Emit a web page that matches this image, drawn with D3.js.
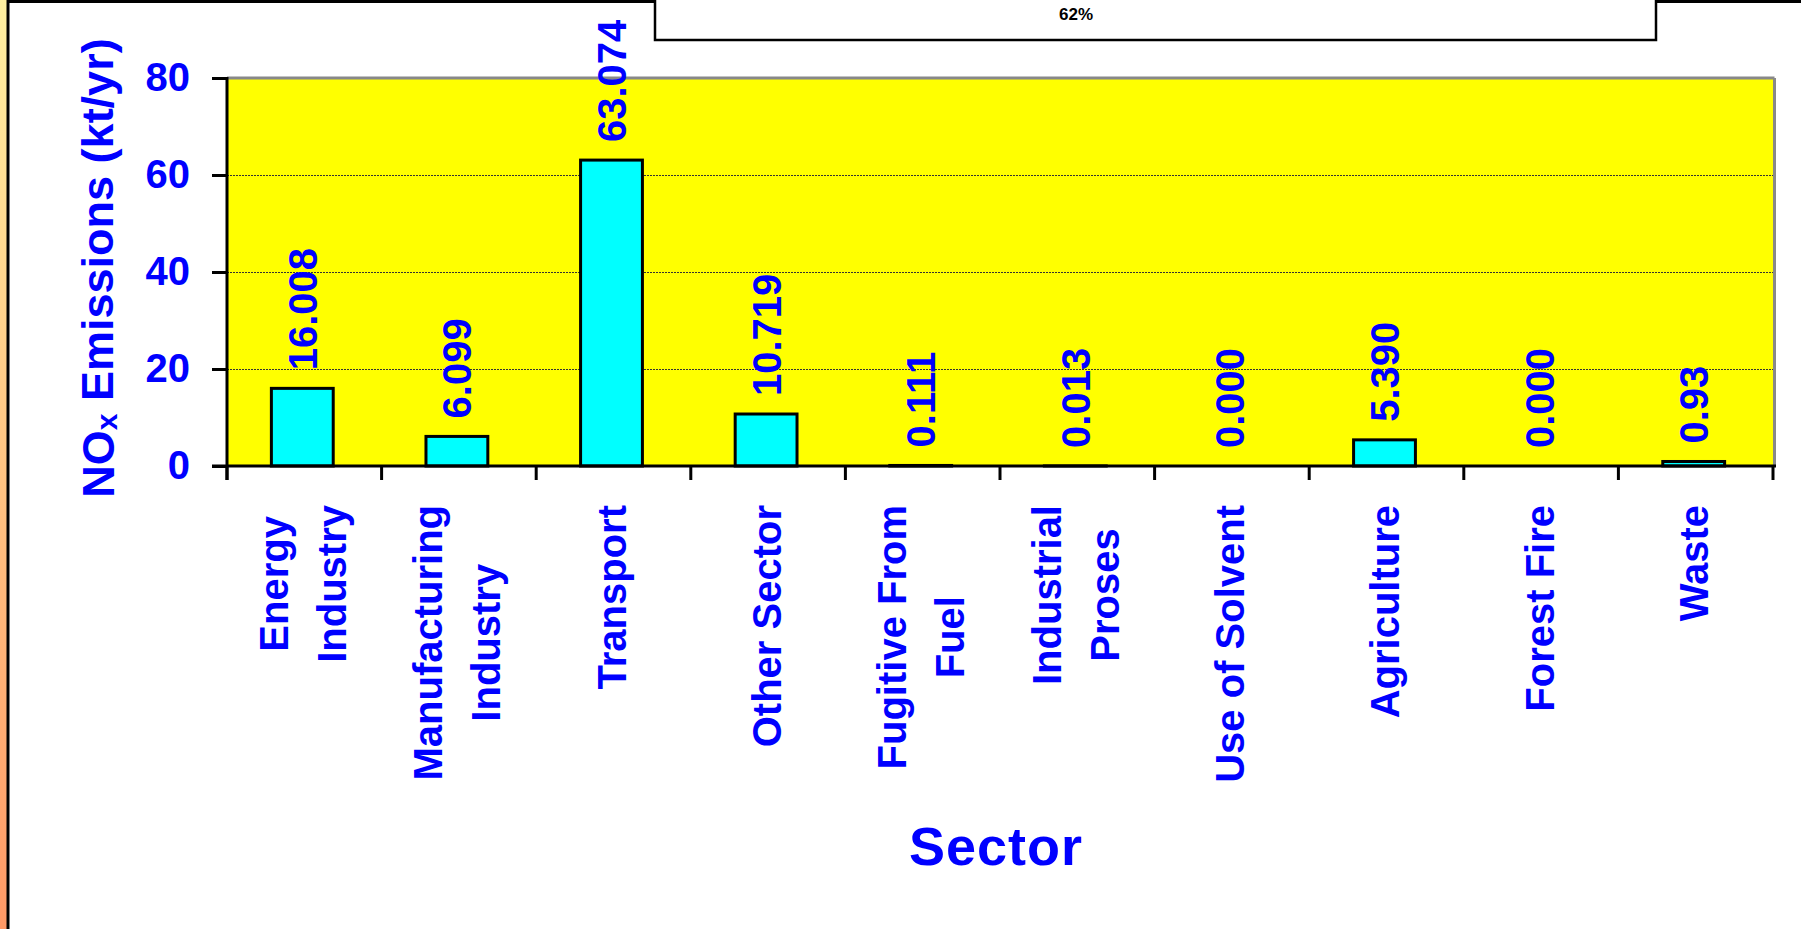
<!DOCTYPE html>
<html>
<head>
<meta charset="utf-8">
<script src="https://cdn.jsdelivr.net/npm/d3@7"></script>
<style>
  html, body { margin: 0; padding: 0; background: #fff; overflow: hidden; }
  svg { display: block; }
  text { font-family: "Liberation Sans", Arial, sans-serif; font-weight: bold; }
</style>
</head>
<body>
<svg id="chart" width="1801" height="929"></svg>
<script>
// ---- Data ----
const categories = [
  "Energy\nIndustry", "Manufacturing\nIndustry", "Transport", "Other Sector",
  "Fugitive From\nFuel", "Industrial\nProses", "Use of Solvent", "Agriculture",
  "Forest Fire", "Waste"
];
const values = [16.008, 6.099, 63.074, 10.719, 0.111, 0.013, 0.000, 5.390, 0.000, 0.93];
const valueLabels = ["16.008", "6.099", "63.074", "10.719", "0.111", "0.013", "0.000", "5.390", "0.000", "0.93"];
const yTicks = [0, 20, 40, 60, 80];
const yGridTicks = [20, 40, 60];
const topBoxText = "62%";

// ---- Layout ----
const W = 1801, H = 929;
const plot = { left: 227, right: 1773, top: 78, bottom: 466 };
const blue = "#0000FF";

const svg = d3.select("#chart");

// left gradient strip + frame
const defs = svg.append("defs");
const grad = defs.append("linearGradient").attr("id", "strip").attr("x1", 0).attr("y1", 0).attr("x2", 0).attr("y2", 1);
grad.append("stop").attr("offset", "0%").attr("stop-color", "#FFF0A0");
grad.append("stop").attr("offset", "100%").attr("stop-color", "#FF9966");
svg.append("rect").attr("x", 0).attr("y", 0).attr("width", 7).attr("height", H).attr("fill", "url(#strip)");
svg.append("line").attr("x1", 8).attr("x2", 8).attr("y1", 0).attr("y2", H).attr("stroke", "#000").attr("stroke-width", 3);
svg.append("line").attr("x1", 7).attr("x2", W).attr("y1", 1.5).attr("y2", 1.5).attr("stroke", "#000").attr("stroke-width", 3);

// top box with percentage
svg.append("rect").attr("x", 655).attr("y", -10).attr("width", 1001).attr("height", 50)
  .attr("fill", "#fff").attr("stroke", "#000").attr("stroke-width", 2.5);
svg.append("text").attr("x", 1076).attr("y", 20).attr("text-anchor", "middle")
  .attr("font-size", 17).attr("fill", "#000").text(topBoxText);

// scales
const x = d3.scaleBand().domain(d3.range(categories.length)).range([plot.left, plot.right]).padding(0);
const y = d3.scaleLinear().domain([0, 80]).range([plot.bottom, plot.top]);

// plot background
svg.append("rect").attr("x", plot.left).attr("y", plot.top)
  .attr("width", plot.right - plot.left).attr("height", plot.bottom - plot.top)
  .attr("fill", "#FFFF00");

// gridlines
svg.append("g").selectAll("line").data(yGridTicks).join("line")
  .attr("x1", plot.left).attr("x2", plot.right)
  .attr("y1", d => Math.round(y(d)) + 0.5).attr("y2", d => Math.round(y(d)) + 0.5)
  .attr("stroke", "#333").attr("stroke-width", 1).attr("stroke-dasharray", "2,1");

// plot border (top/right gray)
svg.append("line").attr("x1", plot.left).attr("x2", plot.right + 1.5).attr("y1", plot.top).attr("y2", plot.top)
  .attr("stroke", "#888").attr("stroke-width", 3);
svg.append("line").attr("x1", plot.right + 1.5).attr("x2", plot.right + 1.5).attr("y1", plot.top).attr("y2", plot.bottom)
  .attr("stroke", "#888").attr("stroke-width", 3);

// bars
const barW = x.bandwidth() * 0.4;
svg.append("g").selectAll("rect").data(values).join("rect")
  .attr("x", (d, i) => x(i) + x.bandwidth() / 2 - barW / 2 - 2)
  .attr("y", d => y(d))
  .attr("width", barW)
  .attr("height", d => y(0) - y(d))
  .attr("fill", "#00FFFF")
  .attr("stroke", "#000")
  .attr("stroke-width", 3);

// value labels
svg.append("g").selectAll("text").data(values).join("text")
  .attr("transform", (d, i) => `translate(${x(i) + x.bandwidth() / 2 - 2},${y(d) - 18}) rotate(-90)`)
  .attr("dy", "0.36em")
  .attr("text-anchor", "start")
  .attr("font-size", 40)
  .attr("fill", blue)
  .text((d, i) => valueLabels[i]);

// y axis
const yAxis = d3.axisLeft(y).tickValues(yTicks).tickSize(15).tickPadding(22).tickFormat(d3.format("d"));
const gy = svg.append("g").attr("transform", `translate(${plot.left},0)`).call(yAxis);
gy.select(".domain").remove();
gy.selectAll(".tick line").attr("stroke", "#000").attr("stroke-width", 3);
gy.selectAll(".tick text").attr("font-size", 40).attr("fill", blue)
  .attr("font-family", "Liberation Sans, Arial, sans-serif").attr("font-weight", "bold");
svg.append("line").attr("x1", plot.left).attr("x2", plot.left).attr("y1", plot.top - 1).attr("y2", plot.bottom + 14)
  .attr("stroke", "#000").attr("stroke-width", 3);

// x axis line and ticks at band boundaries
svg.append("line").attr("x1", plot.left - 15).attr("x2", plot.right + 3).attr("y1", plot.bottom).attr("y2", plot.bottom)
  .attr("stroke", "#000").attr("stroke-width", 3);
const boundaries = d3.range(categories.length + 1);
svg.append("g").selectAll("line").data(boundaries).join("line")
  .attr("x1", i => i < categories.length ? x(i) : plot.right)
  .attr("x2", i => i < categories.length ? x(i) : plot.right)
  .attr("y1", plot.bottom).attr("y2", plot.bottom + 14)
  .attr("stroke", "#000").attr("stroke-width", 3);

// category labels (rotated, multi-line centered, block top aligned)
const labelTop = 505;
const lineGap = 58;
categories.forEach((c, i) => {
  const lines = c.split("\n");
  const cx = x(i) + x.bandwidth() / 2 - 2;
  const g = svg.append("g");
  const texts = lines.map((ln, k) => {
    const off = (k - (lines.length - 1) / 2) * lineGap;
    return g.append("text")
      .attr("font-size", 40).attr("fill", blue).attr("text-anchor", "middle")
      .attr("dy", "0.36em")
      .attr("data-off", off)
      .text(ln);
  });
  const maxLen = d3.max(texts, t => t.node().getComputedTextLength());
  texts.forEach(t => {
    const off = +t.attr("data-off");
    t.attr("transform", `translate(${cx + off},${labelTop + maxLen / 2}) rotate(-90)`);
  });
});

// y axis title with subscript x
const yt = svg.append("text")
  .attr("transform", `translate(98,268) rotate(-90)`)
  .attr("text-anchor", "middle").attr("dy", "0.36em")
  .attr("font-size", 45).attr("fill", blue);
yt.append("tspan").text("NO");
yt.append("tspan").attr("font-size", 30).attr("dy", "0.08em").text("x");
yt.append("tspan").attr("dy", "-0.08em").text(" Emissions (kt/yr)");

// x axis title
svg.append("text").attr("x", 996).attr("y", 865).attr("text-anchor", "middle")
  .attr("font-size", 54).attr("fill", blue).attr("letter-spacing", 1).text("Sector");
</script>
</body>
</html>
